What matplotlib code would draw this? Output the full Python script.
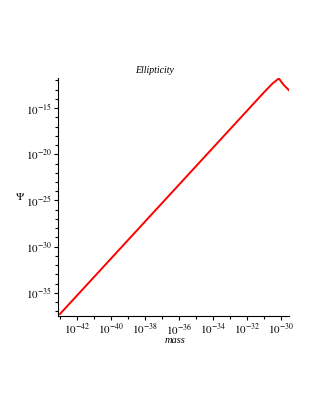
import matplotlib
matplotlib.use("Agg")
import matplotlib.pyplot as plt
import numpy as np
from matplotlib.ticker import FixedLocator, FixedFormatter, NullFormatter

plt.rcParams['font.family'] = ['Liberation Serif', 'DejaVu Serif']
plt.rcParams['mathtext.fontset'] = 'stix'

# exponents (log10 of mass, log10 of Psi)
mass_exp = [-43.0, -37.0, -31.0, -30.5, -30.12, -29.85, -29.53]
psi_exp = [-37.3, -25.3, -13.3, -12.35, -11.78, -12.45, -13.05]

xtick_exp = list(range(-42, -29, 2))
ytick_exp = list(range(-35, -14, 5))

mass = 10.0 ** np.array(mass_exp)
psi = 10.0 ** np.array(psi_exp)

fig = plt.figure(figsize=(3.15, 4.07), dpi=100)
ax = fig.add_axes([0.184, 0.224, 0.733, 0.584])

ax.loglog(mass, psi, color='red', lw=1.4)
ax.set_xlim(10 ** -43.12, 10 ** -29.53)
ax.set_ylim(10 ** -37.5, 10 ** -11.75)

ax.spines['top'].set_visible(False)
ax.spines['right'].set_visible(False)

ax.xaxis.set_major_locator(FixedLocator([10.0 ** e for e in xtick_exp]))
ax.xaxis.set_minor_locator(FixedLocator([10.0 ** e for e in range(-43, -29, 2)]))
ax.yaxis.set_major_locator(FixedLocator([10.0 ** e for e in ytick_exp]))
ax.yaxis.set_minor_locator(FixedLocator([10.0 ** e for e in range(-37, -11) if e % 5 != 0]))
ax.xaxis.set_major_formatter(FixedFormatter([r'$10^{%d}$' % e for e in xtick_exp]))
ax.yaxis.set_major_formatter(FixedFormatter([r'$10^{%d}$' % e for e in ytick_exp]))
ax.xaxis.set_minor_formatter(NullFormatter())
ax.yaxis.set_minor_formatter(NullFormatter())

ax.tick_params(which='major', direction='out', length=3, width=0.8, labelsize=8, pad=1.5)
ax.tick_params(which='minor', direction='out', length=2, width=0.8)

fig.text(0.49, 0.828, 'Ellipticity', fontsize=7, style='italic', ha='center', va='center')
fig.text(0.555, 0.163, 'mass', fontsize=7.5, style='italic', ha='center', va='center')
fig.text(0.065, 0.516, r'$\Psi$', fontsize=8, ha='center', va='center')

fig.savefig('out.png', dpi=100)
